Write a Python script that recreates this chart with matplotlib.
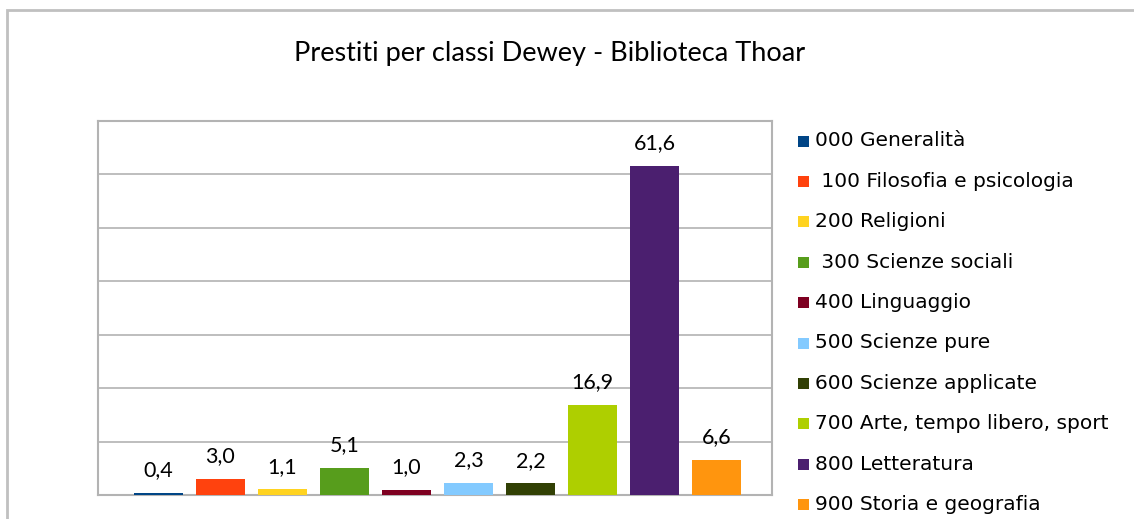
import matplotlib.pyplot as plt
from matplotlib.patches import Rectangle

categories = ["000 Generalità", " 100 Filosofia e psicologia", "200 Religioni",
              " 300 Scienze sociali", "400 Linguaggio", "500 Scienze pure",
              "600 Scienze applicate", "700 Arte, tempo libero, sport",
              "800 Letteratura", "900 Storia e geografia"]
values = [0.4, 3.0, 1.1, 5.1, 1.0, 2.3, 2.2, 16.9, 61.6, 6.6]
colors = ["#004586", "#ff420e", "#ffd320", "#579d1c", "#7e0021",
          "#83caff", "#314004", "#aecf00", "#4b1f6f", "#ff950e"]

W, H = 1134, 519
fig = plt.figure(figsize=(W / 100, H / 100), dpi=100)

# outer chart frame (cut off at right and bottom like the original)
fig.patches.append(Rectangle((7 / W, -0.05), 1.1, 1 - 10 / H + 0.05,
                             transform=fig.transFigure, fill=False,
                             edgecolor="#c0c0c0", linewidth=2, clip_on=False))

ax = fig.add_axes([98 / W, 1 - 495 / H, (772 - 98) / W, (495 - 121) / H])
x = list(range(len(values)))
bars = ax.bar(x, values, width=0.79, color=colors, zorder=3)
ax.set_xlim(-0.97, 9.89)
ax.set_ylim(0, 70)
ax.set_yticks(range(0, 71, 10))
ax.grid(axis="y", color="#b3b3b3", linewidth=1.2, zorder=0)
ax.tick_params(left=False, bottom=False, labelleft=False, labelbottom=False)
for s in ax.spines.values():
    s.set_color("#b3b3b3")
    s.set_linewidth(1.5)

for xi, v in zip(x, values):
    ax.annotate(f"{v:.1f}".replace(".", ","), (xi, v), xytext=(0, 9),
                textcoords="offset points", ha="center", va="bottom",
                fontsize=15.5, family="Lato", color="#000000")

fig.text(550 / W, 1 - 53 / H, "Prestiti per classi Dewey - Biblioteca Thoar",
         ha="center", va="center", fontsize=19.5, family="Lato")

# legend
for i, (lab, c) in enumerate(zip(categories, colors)):
    yc = 141 + i * 40.4
    fig.patches.append(Rectangle((798 / W, 1 - (yc + 5.5) / H), 11 / W, 11 / H,
                                 transform=fig.transFigure, facecolor=c,
                                 edgecolor="none"))
    fig.text(815 / W, 1 - yc / H, lab, ha="left", va="center",
             fontsize=14.5, family="DejaVu Sans")

fig.savefig("out.png", dpi=100)
